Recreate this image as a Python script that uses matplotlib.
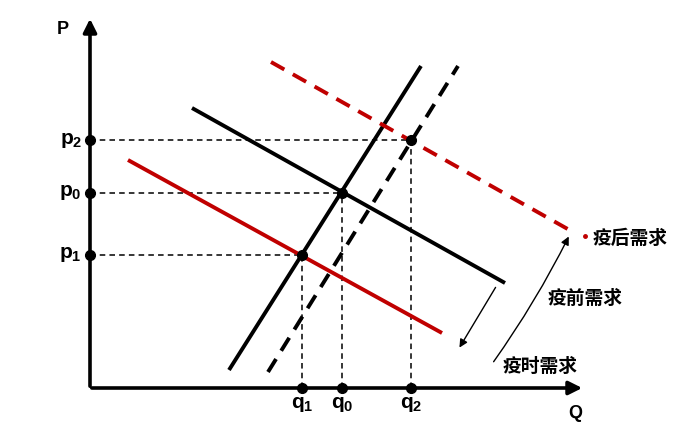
import matplotlib
matplotlib.use("Agg")
import matplotlib.pyplot as plt

plt.rcParams['font.family'] = ['Liberation Sans', 'Noto Sans CJK SC', 'DejaVu Sans']
plt.rcParams['mathtext.fontset'] = 'custom'
plt.rcParams['mathtext.rm'] = 'Liberation Sans:bold'
plt.rcParams['mathtext.it'] = 'Liberation Sans:bold'
plt.rcParams['lines.scale_dashes'] = False

RED = '#C00000'

# equilibrium quantities and prices (Q, P units)
q_vals = [212, 252, 321]
q_labels = [r'$\mathrm{q}_1$', r'$\mathrm{q}_0$', r'$\mathrm{q}_2$']
p_vals = [133, 195, 248]
p_labels = [r'$\mathrm{p}_1$', r'$\mathrm{p}_0$', r'$\mathrm{p}_2$']

# curves as (Q start, P start, Q end, P end)
supply = [139, 18, 331, 322]
supply_shift = [178, 16, 368, 322]
demand_pre = [102, 280, 415, 105]
demand_during = [38, 228, 352, 55]
demand_post = [181, 326, 483, 156]

curve_names = ['疫后需求', '疫前需求', '疫时需求']

fig = plt.figure(figsize=(7, 4.37), dpi=100)
ax = fig.add_axes([0, 0, 1, 1])
ax.set_xlim(-90, 610)
ax.set_ylim(-49, 388)
ax.axis('off')

# axes with arrows
ax.annotate('', xy=(0, 372), xytext=(0, -1),
            arrowprops=dict(arrowstyle='-|>', lw=2.6, color='black', mutation_scale=20))
ax.annotate('', xy=(495, 0), xytext=(-1, 0),
            arrowprops=dict(arrowstyle='-|>', lw=2.6, color='black', mutation_scale=20))
ax.text(-27, 358, 'P', fontsize=13, fontweight='bold', ha='center', va='center')
ax.text(485, -25, 'Q', fontsize=13, fontweight='bold', ha='center', va='center')

# guide lines to the equilibrium points
for q, p in zip(q_vals, p_vals):
    ax.plot([0, q], [p, p], color='black', lw=1.1, dashes=(4, 3))
    ax.plot([q, q], [0, p], color='black', lw=1.1, dashes=(4, 3))


def draw(c, **kw):
    ax.plot([c[0], c[2]], [c[1], c[3]], solid_capstyle='butt', **kw)


draw(supply, color='black', lw=2.8)
draw(supply_shift, color='black', lw=2.8, dashes=(11, 7))
draw(demand_pre, color='black', lw=2.8)
draw(demand_during, color=RED, lw=2.8)
draw(demand_post, color=RED, lw=2.8, dashes=(11, 7))
ax.plot([495], [152], 'o', color=RED, ms=2.5)

# dots
ax.plot(q_vals, p_vals, 'o', color='black', ms=7, zorder=5)
ax.plot([0] * len(p_vals), p_vals, 'o', color='black', ms=7, zorder=5)
ax.plot(q_vals, [0] * len(q_vals), 'o', color='black', ms=7, zorder=5)

for p, lab in zip(p_vals, p_labels):
    ax.text(-8, p, lab, fontsize=15, ha='right', va='center')
for q, lab in zip(q_vals, q_labels):
    ax.text(q, -7, lab, fontsize=15, ha='center', va='top')

# shift arrows
ax.annotate('', xy=(368, 38), xytext=(407, 103),
            arrowprops=dict(arrowstyle='-|>', lw=1.0, color='black', mutation_scale=12))
ax.annotate('', xy=(480, 154), xytext=(402, 24),
            arrowprops=dict(arrowstyle='-|>', lw=1.0, color='black', mutation_scale=12,
                            connectionstyle='arc3,rad=0.04'))

label_pos = [(540, 150), (495, 90), (450, 22)]
for name, (x, y) in zip(curve_names, label_pos):
    ax.text(x, y, name, fontsize=13.5, fontweight='bold', ha='center', va='center',
            family=['Noto Sans CJK SC', 'DejaVu Sans'])

fig.savefig('out.png', dpi=100)
